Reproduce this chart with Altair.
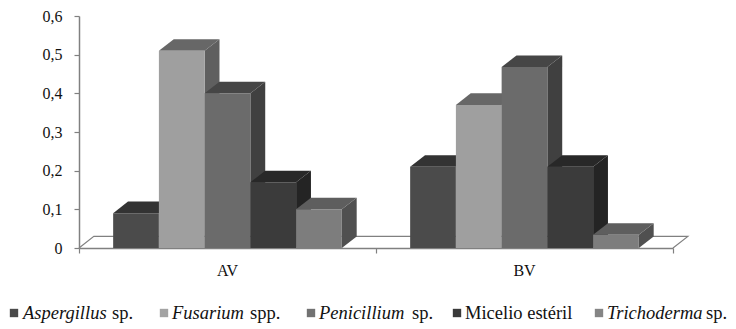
import altair as alt
import pandas as pd

categories = ["AV", "BV"]
species = ["Aspergillus", "Fusarium", "Penicillium", "Micelio estéril", "Trichoderma"]
av_values = [0.09, 0.51, 0.40, 0.17, 0.10]
bv_values = [0.21, 0.37, 0.468, 0.21, 0.034]
front_colors = ["#4b4b4b", "#9f9f9f", "#6b6b6b", "#3b3b3b", "#7d7d7d"]
top_colors = ["#333333", "#676767", "#464646", "#282828", "#5e5e5e"]
side_colors = ["#363636", "#5f5f5f", "#404040", "#242424", "#505050"]
legend_colors = ["#4a4a4a", "#a3a3a3", "#727272", "#3a3a3a", "#858585"]
y_ticks = [0, 0.1, 0.2, 0.3, 0.4, 0.5, 0.6]

# layout (in category units / value units)
BAR_W, DX, DY = 0.154, 0.05, 0.03
FONT = "Liberation Serif"
AXIS = "#808080"

rows = []
pid = 0
for c, vals in enumerate([av_values, bv_values]):
    start = c + 0.5 - 2.5 * BAR_W
    for i, v in enumerate(vals):
        x0, x1 = start + i * BAR_W, start + (i + 1) * BAR_W
        faces = [
            (side_colors[i], [(x1, 0, v), (x1 + DX, DY, v + DY)]),
            (top_colors[i], [(x0, v, v), (x0 + DX, v, v + DY), (x1, v, v + DY), (x1 + DX, v + DY, v + DY)]),
            (front_colors[i], [(x0, 0, v), (x1, 0, v)]),
        ]
        for color, pts in faces:
            pid += 1
            for x, lo, hi in pts:
                rows.append({"poly": pid, "shade": color, "x": x, "lo": lo, "hi": hi})
bars_df = pd.DataFrame(rows)

xs = alt.Scale(domain=[0, 2], nice=False, zero=False)
ys = alt.Scale(domain=[0, 0.6], nice=False)
x_axis = alt.Axis(values=[0, 1, 2], labels=False, grid=False, domainColor=AXIS, tickColor=AXIS,
                  domainWidth=1.5, tickWidth=1.2, tickSize=5, title=None)
y_axis = alt.Axis(values=y_ticks, grid=False, domainColor=AXIS, tickColor=AXIS, domainWidth=1.5,
                  tickWidth=1.2, tickSize=5, labelFont=FONT, labelFontSize=16, labelColor="#111111",
                  labelPadding=12, title=None,
                  labelExpr="datum.value==0?'0':replace(format(datum.value,'.1f'),'.',',')")

floor_df = pd.DataFrame({"o": [0, 1, 2, 3], "x": [0, DX, 2 + DX, 2], "y": [0, DY, DY, 0]})
floor = alt.Chart(floor_df).mark_line(color=AXIS, strokeWidth=1.2).encode(
    x=alt.X("x:Q", scale=xs, axis=x_axis),
    y=alt.Y("y:Q", scale=ys, axis=y_axis),
    order="o:Q",
)

bars = alt.Chart(bars_df).mark_area(opacity=1).encode(
    x=alt.X("x:Q", scale=xs, axis=x_axis),
    y=alt.Y("lo:Q", scale=ys, axis=y_axis, stack=None),
    y2="hi:Q",
    color=alt.Color("shade:N", scale=None),
    detail="poly:N",
)

cat_df = pd.DataFrame({"c": categories, "x": [0.5, 1.5]})
cat_text = alt.Chart(cat_df).mark_text(font=FONT, fontSize=16, color="#111111").encode(
    x=alt.X("x:Q", scale=xs, axis=x_axis), y=alt.value(255), text="c:N"
)

# legend, drawn by hand since its labels mix italic and roman text
square_x = [-65, 85, 232, 378, 520]
name_x = [-56, 93, 240, 386, 528]
suffix = ["sp.", "spp.", "sp.", "", "sp."]
suffix_x = [33, 171, 333, 0, 627]
LEGEND_Y = 297
FS = 18.5
sq_df = pd.DataFrame({"px": square_x, "c": legend_colors})
squares = alt.Chart(sq_df).mark_square(size=70, opacity=1).encode(
    x=alt.X("px:Q", scale=None, axis=None), y=alt.value(LEGEND_Y), color=alt.Color("c:N", scale=None)
)
name_df = pd.DataFrame({"px": name_x, "t": species, "st": ["italic", "italic", "italic", "normal", "italic"]})
it = alt.Chart(name_df[name_df.st == "italic"]).mark_text(font=FONT, fontSize=FS, fontStyle="italic", align="left",
                                                          color="#111111").encode(
    x=alt.X("px:Q", scale=None, axis=None), y=alt.value(LEGEND_Y), text="t:N")
rm_df = pd.concat([
    name_df[name_df.st == "normal"][["px", "t"]],
    pd.DataFrame({"px": suffix_x, "t": suffix}).query("t != ''"),
])
rm = alt.Chart(rm_df).mark_text(font=FONT, fontSize=FS, align="left", color="#111111").encode(
    x=alt.X("px:Q", scale=None, axis=None), y=alt.value(LEGEND_Y), text="t:N")

chart = alt.layer(floor, bars, cat_text, squares, it, rm).properties(
    width=594, height=232,
    padding={"left": 71, "top": 8, "right": 55, "bottom": 81},
    autosize=alt.AutoSizeParams(type="none"),
    background="white",
).configure_view(stroke=None).configure_axis(labelFont=FONT, labelFontSize=16)

chart.save("out.html", embed_options={"renderer": "svg", "actions": False})
